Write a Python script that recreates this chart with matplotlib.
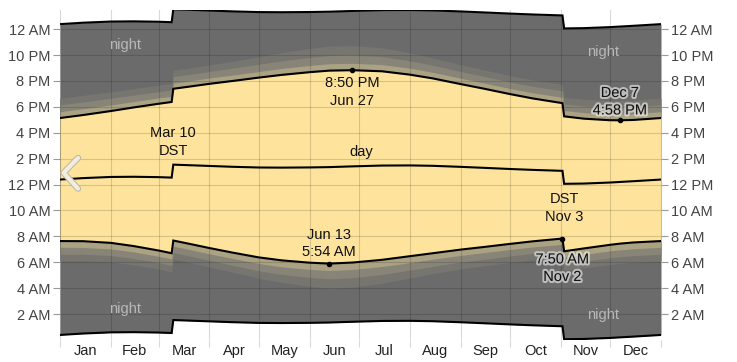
import matplotlib
matplotlib.use("Agg")
import matplotlib.pyplot as plt
import matplotlib.patheffects as pe
import numpy as np

plt.rcParams['font.family'] = ['Liberation Sans', 'DejaVu Sans']

# ---- data (2024, day-of-year index starting at 0 = Jan 1) ----
day = [0, 14, 31, 45, 60, 68, 69, 79, 91, 105, 121, 135, 152, 164, 178, 196,
       213, 227, 244, 258, 274, 288, 306, 307, 319, 335, 341, 349, 366]
# clock times in hours
sunrise = [7.64, 7.63, 7.50, 7.25, 6.91, 6.70, 7.68, 7.42, 7.10, 6.75, 6.38, 6.15,
           5.97, 5.90, 5.98, 6.19, 6.47, 6.70, 6.98, 7.18, 7.42, 7.62, 7.833, 6.85,
           7.07, 7.35, 7.44, 7.53, 7.64]
sunset = [17.14, 17.37, 17.68, 17.96, 18.24, 18.38, 19.40, 19.57, 19.78, 20.00, 20.26,
          20.47, 20.68, 20.80, 20.833, 20.75, 20.49, 20.20, 19.76, 19.41, 18.99, 18.65,
          18.29, 17.27, 17.09, 16.97, 16.967, 16.99, 17.14]
# twilight durations (minutes) measured from sunrise / sunset
civil = [29, 29, 28, 27, 27, 26, 26, 26, 27, 27, 28, 30, 31, 32, 32, 31, 30, 28, 27,
         26, 26, 26, 27, 27, 28, 28, 29, 29, 29]
nautical = [61, 60, 59, 57, 56, 56, 56, 56, 57, 59, 62, 65, 68, 70, 70, 68, 64, 61, 58,
            57, 56, 56, 57, 57, 59, 60, 61, 61, 61]
astronomical = [92, 91, 89, 87, 86, 86, 86, 86, 88, 91, 97, 103, 110, 114, 114, 109,
                101, 95, 90, 87, 86, 86, 88, 88, 90, 91, 92, 92, 92]

month_starts = [0, 31, 60, 91, 121, 152, 182, 213, 244, 274, 305, 335, 366]
month_labels = ['Jan', 'Feb', 'Mar', 'Apr', 'May', 'Jun', 'Jul', 'Aug', 'Sep',
                'Oct', 'Nov', 'Dec']
hour_ticks = [2, 4, 6, 8, 10, 12, 14, 16, 18, 20, 22, 24]
hour_labels = ['2 AM', '4 AM', '6 AM', '8 AM', '10 AM', '12 PM', '2 PM', '4 PM',
               '6 PM', '8 PM', '10 PM', '12 AM']

# annotations: (day, value, text, vertical offset in points, halo)
extremes = [(178, 20.833, '8:50 PM\nJun 27', -4.5, False),
            (164, 5.90, 'Jun 13\n5:54 AM', 3, False),
            (341, 16.967, 'Dec 7\n4:58 PM', 2, True),
            (306, 7.833, '7:50 AM\nNov 2', -10, True)]

# ---- derived ----
x = np.array(day, dtype=float)
rise = np.array(sunrise)
sset = np.array(sunset)
noon = (rise + sset) / 2
civ = np.array(civil) / 60
nau = np.array(nautical) / 60
ast = np.array(astronomical) / 60

fig = plt.figure(figsize=(7.37, 3.62), dpi=100)
ax = fig.add_axes([60 / 737, 22 / 362, 601 / 737, 330.5 / 362])

night_c = '#6b6b6b'
astro_c = '#777570'
naut_c = '#888578'
civil_c = '#aaa282'
day_c = '#fde39c'

ax.fill_between(x, noon - 12, noon + 12, color=night_c, lw=0, zorder=1)
ax.fill_between(x, rise - ast, sset + ast, color=astro_c, lw=0, zorder=1.1)
ax.fill_between(x, rise - nau, sset + nau, color=naut_c, lw=0, zorder=1.2)
ax.fill_between(x, rise - civ, sset + civ, color=civil_c, lw=0, zorder=1.3)
ax.fill_between(x, rise, sset, color=day_c, lw=0, zorder=1.4)

for series in (rise, sset, noon, noon - 12, noon + 12):
    ax.plot(x, series, color='black', lw=1.5, zorder=4, solid_joinstyle='miter')

ax.set_xlim(0, 366)
ax.set_ylim(0, 25.52)

# grid / ticks
ax.set_xticks(month_starts)
ax.set_xticklabels([])
ax.set_xticks([(a + b) / 2 for a, b in zip(month_starts[:-1], month_starts[1:])], minor=True)
ax.set_xticklabels(month_labels, minor=True)
ax.tick_params(axis='x', which='major', length=5, width=0.8, color='#d9d9d9')
ax.tick_params(axis='x', which='minor', length=0, pad=3, labelsize=10.5, labelcolor='#222222')
ax.set_yticks(hour_ticks)
ax.set_yticklabels(hour_labels)
ax.tick_params(axis='y', which='both', length=5, width=0.8, color='#999999', pad=2,
               labelsize=10.5, labelcolor='#444444', left=True, right=True,
               labelleft=True, labelright=True)
ax.grid(True, which='major', color='black', alpha=0.15, lw=0.8, zorder=3)
ax.set_axisbelow(False)
for s in ax.spines.values():
    s.set_visible(False)

# labels
night_kw = dict(color='#b8b8b8', fontsize=10.5, ha='center', va='center', zorder=5)
ax.text(39.6, 22.78, 'night', **night_kw)
ax.text(39.6, 2.39, 'night', **night_kw)
ax.text(330.7, 22.24, 'night', **night_kw)
ax.text(330.7, 1.93, 'night', **night_kw)
ax.text(183.3, 14.52, 'day', color='#111111', fontsize=10.5, ha='center', va='center', zorder=5)

halo = [pe.withStroke(linewidth=3, foreground='white', alpha=0.55)]
for d, v, t, off, h in extremes:
    ax.plot([d], [v], 'o', color='black', ms=3, zorder=6)
    ax.annotate(t, (d, v), xytext=(0, off), textcoords='offset points',
                ha='center', va='top' if off < 0 else 'bottom',
                fontsize=10.5, color='#111111', linespacing=1.32, zorder=6,
                path_effects=halo if h else None)

# DST labels
ax.annotate('Mar 10\nDST', (69, noon[6]), xytext=(0, 5), textcoords='offset points',
            ha='center', va='bottom', fontsize=10.5, color='#111111', linespacing=1.32, zorder=6)
ax.annotate('DST\nNov 3', (307, noon[23]), xytext=(0, -6), textcoords='offset points',
            ha='center', va='top', fontsize=10.5, color='#111111', linespacing=1.32, zorder=6)

# navigation chevron
chev = ax.plot([0.030, 0.006, 0.030], [0.551, 0.506, 0.458], transform=ax.transAxes,
               color='#f1ede0', lw=3.0, zorder=7, solid_capstyle='round',
               solid_joinstyle='round', clip_on=False)
chev[0].set_path_effects([pe.Stroke(linewidth=4.5, foreground='#bdb7a6'), pe.Normal()])

fig.savefig('out.png', dpi=100)
